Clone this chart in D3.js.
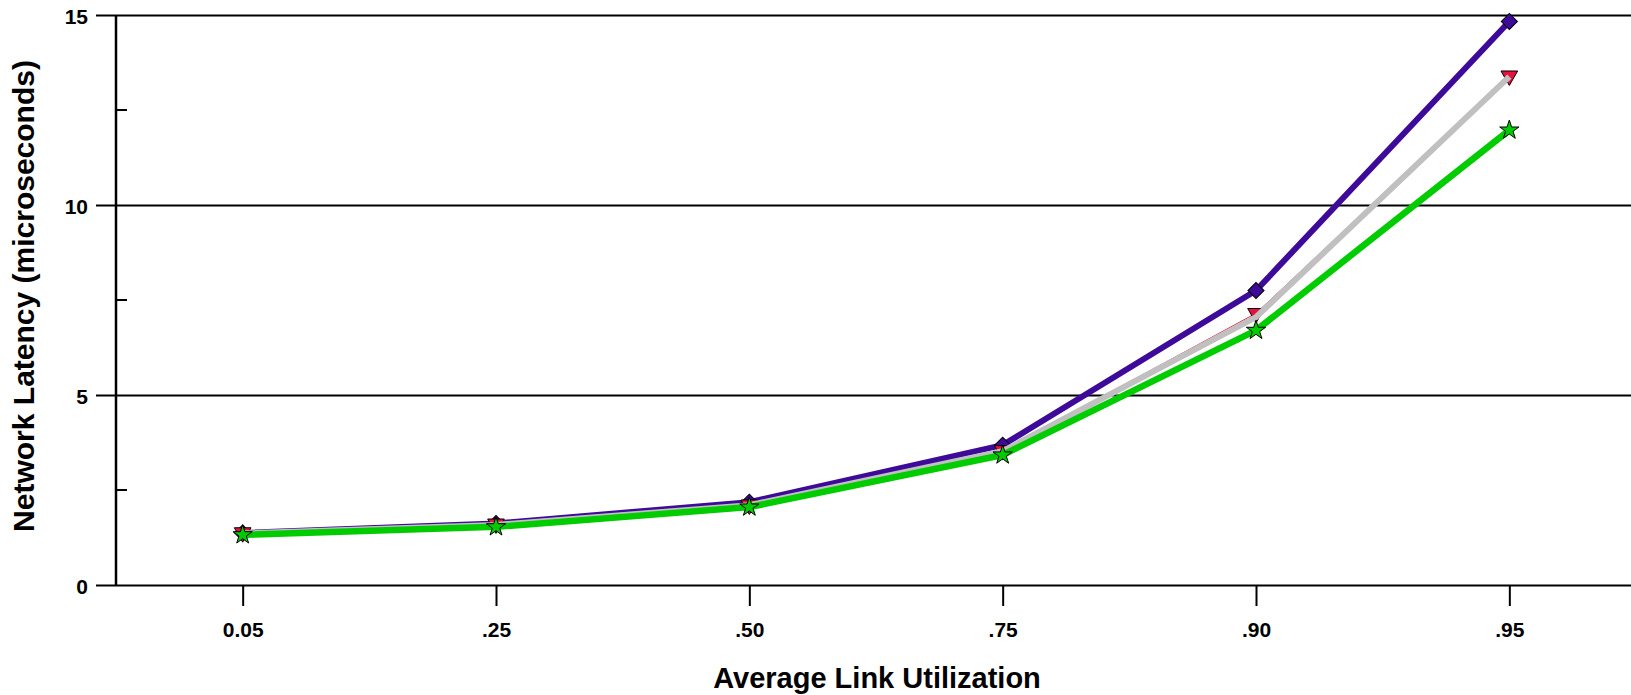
<!DOCTYPE html>
<html>
<head>
<meta charset="utf-8">
<script src="https://cdn.jsdelivr.net/npm/d3@7"></script>
<style>
  html, body { margin: 0; padding: 0; background: #fff; }
  svg { display: block; font-family: "Liberation Sans", Arial, sans-serif; }
</style>
</head>
<body>
<svg id="chart" width="1631" height="695"></svg>
<script>
// ── DATA ─────────────────────────────────────────────────────────────────────
const categories = ['0.05', '.25', '.50', '.75', '.90', '.95'];
const yTicks = [0, 5, 10, 15];
const yMinorTicks = [2.5, 7.5, 12.5];

const purpleValues = [1.37, 1.62, 2.18, 3.68, 7.75, 14.83];
const redValues    = [1.38, 1.61, 2.11, 3.54, 7.15, 13.40];
const grayValues   = [1.36, 1.58, 2.10, 3.52, 7.05, 13.38];
const greenValues  = [1.32, 1.53, 2.05, 3.42, 6.70, 11.97];

const series = [
  { name: 'purple', values: purpleValues, color: '#3d0a99', width: 6, marker: 'diamond', fill: '#3d0a99' },
  { name: 'red',    values: redValues,    color: '#e8103c', width: 1, marker: 'triangle', fill: '#e8103c' },
  { name: 'gray',   values: grayValues,   color: '#c0c0c0', width: 6, marker: null },
  { name: 'green',  values: greenValues,  color: '#00cc00', width: 6.5, marker: 'star', fill: '#00cc00' }
];

// ── SETUP ────────────────────────────────────────────────────────────────────
const svg = d3.select('#chart');
const mLeft = 116, mRight = 1636, mTop = 15, mBottom = 585;
const FONT = '"Liberation Sans", Arial, sans-serif';

const x = d3.scalePoint().domain(categories).range([mLeft, mRight]).padding(0.5);
const y = d3.scaleLinear().domain([0, 15]).range([mBottom, mTop]);

// gridlines with outward tick (major)
const yAxis = d3.axisLeft(y).tickValues(yTicks).tickSize(-(1631 - mLeft)).tickSizeOuter(0);
const gy = svg.append('g').attr('transform', `translate(${mLeft},0)`).call(yAxis);
gy.select('.domain').remove();
gy.selectAll('.tick line')
  .attr('x1', -20)
  .attr('stroke', '#000').attr('stroke-width', 2);
gy.selectAll('.tick text')
  .attr('x', -28).attr('dy', '0.42em')
  .attr('font-size', 21).attr('font-weight', 'bold')
  .attr('font-family', FONT)
  .attr('fill', '#000');

// minor ticks pointing inward
svg.append('g').selectAll('line').data(yMinorTicks).join('line')
  .attr('x1', mLeft).attr('x2', mLeft + 11)
  .attr('y1', d => y(d)).attr('y2', d => y(d))
  .attr('stroke', '#000').attr('stroke-width', 2);

// y axis line
svg.append('line')
  .attr('x1', mLeft).attr('x2', mLeft)
  .attr('y1', y(15)).attr('y2', y(0))
  .attr('stroke', '#000').attr('stroke-width', 2.5);

// x axis
const xAxis = d3.axisBottom(x).tickSize(21).tickSizeOuter(0).tickPadding(16);
const gx = svg.append('g').attr('transform', `translate(0,${mBottom})`).call(xAxis);
gx.select('.domain').remove();
gx.selectAll('.tick line').attr('stroke', '#000').attr('stroke-width', 2);
gx.selectAll('.tick text')
  .attr('font-size', 21).attr('font-weight', 'bold')
  .attr('font-family', FONT)
  .attr('fill', '#000');

// ── SERIES ───────────────────────────────────────────────────────────────────
const line = d3.line().x((d, i) => x(categories[i])).y(d => y(d));

const symbols = {
  diamond: { type: d3.symbolSquare, size: 130, rotate: 45 },
  triangle: { type: d3.symbolTriangle, size: 120, rotate: 180 },
  star: { type: d3.symbolStar, size: 115, rotate: 0 }
};

series.forEach(s => {
  svg.append('path')
    .datum(s.values)
    .attr('d', line)
    .attr('fill', 'none')
    .attr('stroke', s.color)
    .attr('stroke-width', s.width)
    .attr('stroke-linejoin', 'round');
  if (s.marker) {
    const m = symbols[s.marker];
    svg.append('g').selectAll('path').data(s.values).join('path')
      .attr('d', d3.symbol().type(m.type).size(m.size))
      .attr('transform', (d, i) => `translate(${x(categories[i])},${y(d)}) rotate(${m.rotate})`)
      .attr('fill', s.fill)
      .attr('stroke', '#000')
      .attr('stroke-width', 1);
  }
});

// ── TITLES ───────────────────────────────────────────────────────────────────
svg.append('text')
  .attr('x', 877).attr('y', 688)
  .attr('text-anchor', 'middle')
  .attr('font-size', 29).attr('font-weight', 'bold')
  .attr('font-family', FONT)
  .text('Average Link Utilization');

svg.append('text')
  .attr('transform', 'translate(34,296) rotate(-90)')
  .attr('text-anchor', 'middle')
  .attr('font-size', 30).attr('font-weight', 'bold')
  .attr('font-family', FONT)
  .text('Network Latency (microseconds)');
</script>
</body>
</html>
